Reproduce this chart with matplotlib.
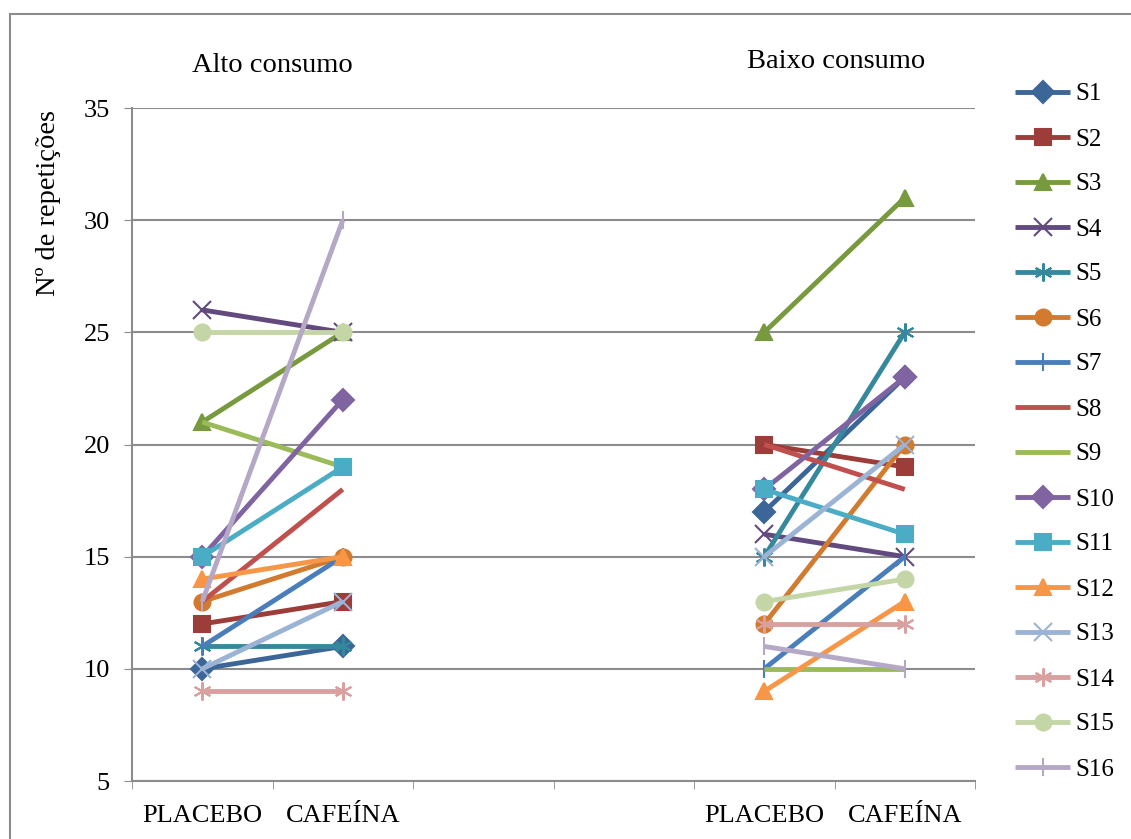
import numpy as np
import matplotlib
matplotlib.use("Agg")
import matplotlib.pyplot as plt
from matplotlib.patches import Rectangle

plt.rcParams["font.family"] = ["Liberation Serif", "DejaVu Serif"]

# categories on the x axis (two empty slots separate the groups)
categories = ["PLACEBO", "CAFEÍNA", "", "", "PLACEBO", "CAFEÍNA"]
groups = ["Alto consumo", "Baixo consumo"]
subjects = ["S%d" % i for i in range(1, 17)]

# values: placebo, cafeina for each group
alto_placebo = [10, 12, 21, 26, 11, 13, 11, 13, 21, 15, 15, 14, 10, 9, 25, 13]
alto_cafeina = [11, 13, 25, 25, 11, 15, 15, 18, 19, 22, 19, 15, 13, 9, 25, 30]
baixo_placebo = [17, 20, 25, 16, 15, 12, 10, 20, 10, 18, 18, 9, 15, 12, 13, 11]
baixo_cafeina = [23, 19, 31, 15, 25, 20, 15, 18, 10, 23, 16, 13, 20, 12, 14, 10]

colors = ["#3C6698", "#9C3D3A", "#789A3E", "#624A7E", "#36899D", "#D27A30",
          "#4A7EBB", "#C0504D", "#9BBB59", "#8064A2", "#4BACC6", "#F79646",
          "#9BB3D5", "#D9A0A0", "#C4D6A6", "#B5A8C7"]
markers = ["D", "s", "^", "x", (6, 2, 0), "o", "|", None, None, "D", "s", "^",
           "x", (6, 2, 0), "o", "|"]

fig = plt.figure(figsize=(11.31, 8.39), dpi=100)
ax = fig.add_axes([132 / 1131, 1 - 781 / 839, (975 - 132) / 1131, (781 - 108) / 839])

grid_c = "#8C8C8C"
x = np.arange(len(categories))
for i, name in enumerate(subjects):
    m = markers[i]
    ms = 11.5
    if m in ("x", (6, 2, 0), "|"):
        ms = 13
    kw = dict(color=colors[i], lw=3.5, marker=m, markersize=ms,
              markeredgewidth=1.5, label=name, solid_capstyle="butt")
    ax.plot(x[[0, 1]], [alto_placebo[i], alto_cafeina[i]], **kw)
    kw.pop("label")
    ax.plot(x[[4, 5]], [baixo_placebo[i], baixo_cafeina[i]], **kw)

ax.set_xlim(-0.5, 5.5)
ax.set_ylim(5, 35)
ax.set_yticks(range(5, 36, 5))
ax.set_xticks(x)
ax.set_xticklabels(categories)
ax.set_xticks(np.arange(-0.5, 6, 1), minor=True)
ax.tick_params(axis="x", which="major", length=0, pad=17, labelsize=19)
ax.tick_params(axis="x", which="minor", length=6, color=grid_c, direction="out")
ax.tick_params(axis="y", length=6, color=grid_c, labelsize=19, pad=10)
ax.yaxis.grid(True, color=grid_c, lw=1.5)
ax.set_axisbelow(True)
for s in ["top", "right"]:
    ax.spines[s].set_visible(False)
for s in ["left", "bottom"]:
    ax.spines[s].set_color(grid_c)
    ax.spines[s].set_linewidth(1.5)

fig.text(272 / 1131, 1 - 65 / 839, groups[0], ha="center", va="center", fontsize=20.5)
fig.text(836 / 1131, 1 - 62 / 839, groups[1], ha="center", va="center", fontsize=20.5)
fig.text(49 / 1131, 1 - 203 / 839, "Nº de repetições", rotation=90,
         ha="center", va="center", fontsize=20.5)

fig.legend(loc="upper left", bbox_to_anchor=(1005 / 1131, 1 - 73 / 839),
           frameon=False, fontsize=18, labelspacing=0.9, handlelength=2.2,
           handletextpad=0.2, borderaxespad=0)

fig.patches.append(Rectangle((10 / 1131, -0.01), 1.2, 1 - 14 / 839 + 0.01,
                             transform=fig.transFigure, fill=False,
                             edgecolor="#8C8C8C", lw=1.5))

fig.savefig("out.png", dpi=100)
